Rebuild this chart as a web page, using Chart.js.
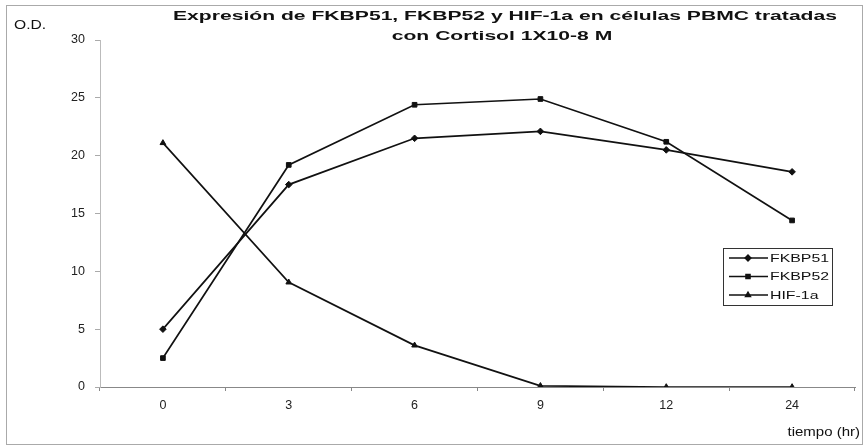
<!DOCTYPE html>
<html>
<head>
<meta charset="utf-8">
<script src="https://cdn.jsdelivr.net/npm/chart.js@4.4.1/dist/chart.umd.min.js"></script>
<style>
  html, body { margin: 0; padding: 0; background: #fff; }
  #wrap { width: 866px; height: 447px; position: relative; }
</style>
</head>
<body>
<div id="wrap"><canvas id="odChart" width="866" height="447"></canvas></div>
<script>
const categories = ["0", "3", "6", "9", "12", "24"];
const fkbp51 = [5.0, 17.5, 21.5, 22.1, 20.5, 18.6];
const fkbp52 = [2.5, 19.2, 24.4, 24.9, 21.2, 14.4];
const hif1a = [21.1, 9.05, 3.6, 0.1, 0, 0];
const yTicks = [0, 5, 10, 15, 20, 25, 30];

const titleLines = [
  "Expresión de FKBP51, FKBP52 y HIF-1a en células PBMC tratadas",
  "con Cortisol 1X10-8 M"
];

const FONT = "'Liberation Sans', Arial, sans-serif";
Chart.defaults.font.family = FONT;
Chart.defaults.font.size = 12;
Chart.defaults.color = "#222";

const canvas = document.getElementById("odChart");
canvas.getContext("2d").letterSpacing = "2.2px";

// the scanned original is a bit wide, so text gets stretched sideways
const stretchText = (ctx, text, x, y, sx, align) => {
  const w = ctx.measureText(text).width * sx;
  let left = x;
  if (align === "center") left = x - w / 2;
  if (align === "right") left = x - w;
  ctx.save();
  ctx.textAlign = "left";
  ctx.translate(left, y);
  ctx.scale(sx, 1);
  ctx.fillText(text, 0, 0);
  ctx.restore();
};

const decorations = {
  id: "decorations",
  beforeDraw(chart) {
    const { ctx } = chart;
    ctx.save();
    ctx.strokeStyle = "#aaa";
    ctx.lineWidth = 1;
    ctx.strokeRect(6.5, 5.5, 856, 439);
    ctx.restore();
  },
  afterDraw(chart) {
    const { ctx, chartArea } = chart;
    ctx.save();
    ctx.fillStyle = "#111";
    ctx.textBaseline = "middle";
    ctx.letterSpacing = "0px";

    // title
    ctx.font = "bold 12.5px " + FONT;
    const sx = 664 / ctx.measureText(titleLines[0]).width;
    stretchText(ctx, titleLines[0], 505, 16.5, sx, "center");
    stretchText(ctx, titleLines[1], 502, 36.5, sx, "center");

    // axis titles
    ctx.font = "12px " + FONT;
    stretchText(ctx, "O.D.", 14, 26, 1.3, "left");
    stretchText(ctx, "tiempo (hr)", 860, 433, 1.25, "right");

    // legend
    const bx = chartArea.right - 132, by = chartArea.bottom - 139;
    const bw = 109, bh = 57;
    ctx.strokeStyle = "#333";
    ctx.lineWidth = 1;
    ctx.strokeRect(bx + 0.5, by + 0.5, bw, bh);
    ctx.font = "11.5px " + FONT;
    chart.data.datasets.forEach((ds, i) => {
      const y = by + 10 + i * 18.5;
      ctx.strokeStyle = ds.borderColor;
      ctx.lineWidth = 1.3;
      ctx.beginPath();
      ctx.moveTo(bx + 6, y);
      ctx.lineTo(bx + 45, y);
      ctx.stroke();
      ctx.fillStyle = "#111";
      Chart.helpers.drawPoint(ctx, {
        pointStyle: ds.pointStyle,
        radius: 3,
        borderWidth: 1
      }, bx + 25, y);
      stretchText(ctx, ds.label, bx + 47, y + 0.5, 1.38, "left");
    });
    ctx.restore();
  }
};

new Chart(canvas, {
  type: "line",
  data: {
    labels: categories,
    datasets: [
      { label: "FKBP51", data: fkbp51, pointStyle: "rectRot" },
      { label: "FKBP52", data: fkbp52, pointStyle: "rect" },
      { label: "HIF-1a", data: hif1a, pointStyle: "triangle" }
    ].map((ds) => ({
      ...ds,
      borderColor: "#111",
      backgroundColor: "#111",
      pointBackgroundColor: "#111",
      pointBorderColor: "#111",
      borderWidth: 1.7,
      pointRadius: 3.3,
      pointBorderWidth: 1,
      tension: 0
    }))
  },
  options: {
    responsive: false,
    animation: false,
    layout: { padding: { top: 40, left: 5, right: 11, bottom: 0 } },
    plugins: {
      legend: { display: false },
      title: { display: false },
      tooltip: { enabled: false }
    },
    scales: {
      x: {
        offset: true,
        grid: { offset: true, drawOnChartArea: false, tickLength: 4, color: "#888" },
        border: { color: "#888" },
        ticks: { padding: 7, color: "#222", font: { size: 12.5 } },
        afterFit: (scale) => { scale.height = 60; }
      },
      y: {
        min: yTicks[0],
        max: yTicks[yTicks.length - 1],
        afterBuildTicks: (scale) => { scale.ticks = yTicks.map((v) => ({ value: v })); },
        grid: { drawOnChartArea: false, tickLength: 5, color: "#aaa" },
        border: { color: "#bbb", dash: [2, 2] },
        ticks: { padding: 10, color: "#222", font: { size: 12.5 } },
        afterFit: (scale) => { scale.width = 95; }
      }
    }
  },
  plugins: [decorations]
});
</script>
</body>
</html>
